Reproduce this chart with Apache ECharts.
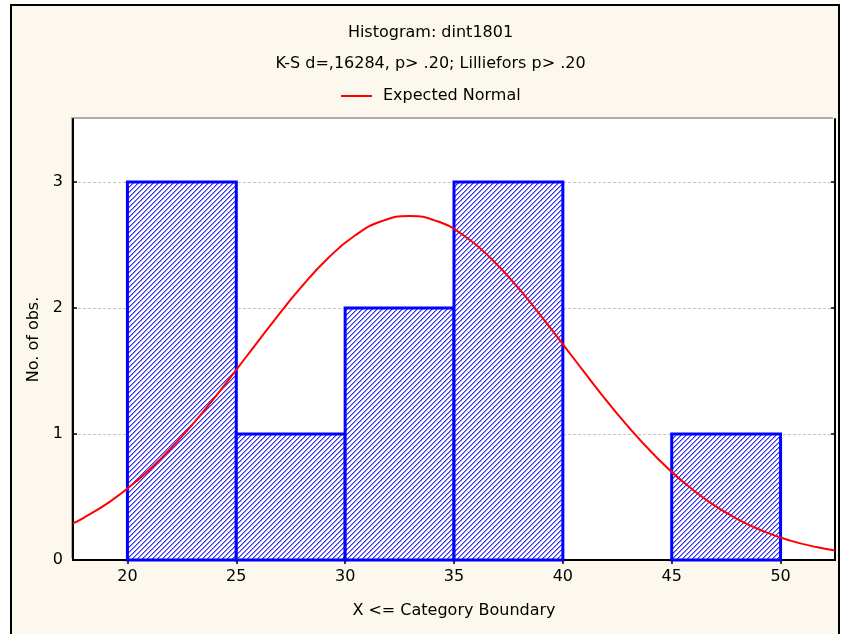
<!DOCTYPE html>
<html><head><meta charset="utf-8">
<script src="https://cdn.jsdelivr.net/npm/echarts@6/dist/echarts.min.js"></script>
<style>
html,body{margin:0;padding:0;background:#fff;}
body{width:842px;height:634px;overflow:hidden;position:relative;}
#frame{position:absolute;left:10px;top:4px;width:830px;height:660px;border:2px solid #000;background:#fdf8ee;box-sizing:border-box;}
#chart{position:absolute;left:0;top:0;width:842px;height:634px;}
</style></head><body>
<div id="frame"></div><div id="chart"></div>
<script>
// ---- data ----
const titleText = 'Histogram: dint1801';
const subTitleText = 'K-S d=,16284, p> .20; Lilliefors p> .20';
const binStart = [20, 25, 30, 35, 40, 45];
const binEnd   = [25, 30, 35, 40, 45, 50];
const counts   = [3, 1, 2, 3, 0, 1];
const xTicks = [20, 25, 30, 35, 40, 45, 50];
const yTicks = [0, 1, 2, 3];
// expected-normal curve, points
const curveX = [17.5, 17.95, 19.2, 20.45, 21.7, 22.95, 24.2, 25.45, 26.7, 27.95, 29.2, 30.45, 31.7, 32.95,
                34.2, 35.45, 36.7, 37.95, 39.2, 40.45, 41.7, 42.95, 44.2, 45.45, 46.7, 47.95, 49.2, 50.45, 51.7, 52.5];
const curveY = [0.291, 0.331, 0.463, 0.630, 0.833, 1.068, 1.331, 1.611, 1.892, 2.159, 2.393, 2.575, 2.690, 2.730,
                2.690, 2.575, 2.393, 2.159, 1.892, 1.611, 1.331, 1.068, 0.833, 0.630, 0.463, 0.331, 0.229, 0.154, 0.101, 0.076];

const FONT = '"DejaVu Sans", "Liberation Sans", sans-serif';

// hatch pattern ("/" stripes)
const P = 5;
const pc = document.createElement('canvas');
pc.width = P; pc.height = P;
const pctx = pc.getContext('2d');
pctx.fillStyle = '#ffffff'; pctx.fillRect(0, 0, P, P);
const stripeCols = ['#3434f2', '#8c8cf7'];
for (let x = 0; x < P; x++) for (let y = 0; y < P; y++) {
  const k = (x + y) % P;
  if (k < stripeCols.length) { pctx.fillStyle = stripeCols[k]; pctx.fillRect(x, y, 1, 1); }
}
const hatch = { image: pc, repeat: 'repeat' };

const chart = echarts.init(document.getElementById('chart'), null, { renderer: 'canvas' });
const axisLine = { show: true, lineStyle: { color: '#000', width: 2 } };
const tickStyle = { color: '#000', width: 1.5 };
const labelStyle = { color: '#000', fontSize: 16, fontFamily: FONT };

chart.setOption({
  animation: false,
  backgroundColor: 'transparent',
  textStyle: { fontFamily: FONT },
  graphic: [
    { type: 'text', x: 430.5, y: 33, style: { text: titleText, font: '16px ' + FONT, fill: '#000', align: 'center', verticalAlign: 'middle' } },
    { type: 'text', x: 430.5, y: 63.5, style: { text: subTitleText, font: '16px ' + FONT, fill: '#000', align: 'center', verticalAlign: 'middle' } }
  ],
  legend: {
    data: [{ name: 'Expected Normal', icon: 'rect' }],
    left: 336, top: 83,
    itemWidth: 31, itemHeight: 2,
    selectedMode: false,
    textStyle: { color: '#000', fontSize: 16, fontFamily: FONT, padding: [0, 0, 0, 6] }
  },
  grid: {
    left: 73, right: 7, top: 119, bottom: 74, show: true, backgroundColor: '#fff', borderWidth: 0,
    shadowColor: 'rgba(0,0,0,0.3)', shadowOffsetX: -2, shadowOffsetY: -2, shadowBlur: 0
  },
  xAxis: [
    {
      type: 'value', position: 'bottom', min: 17.5, max: 52.5, z: 1,
      axisLine: axisLine,
      axisTick: { show: true, inside: true, length: 4, customValues: xTicks, lineStyle: tickStyle },
      axisLabel: Object.assign({ customValues: xTicks, margin: 9 }, labelStyle),
      splitLine: { show: false },
      name: 'X <= Category Boundary', nameLocation: 'middle', nameGap: 43,
      nameTextStyle: labelStyle
    },
    {
      type: 'value', position: 'top', min: 17.5, max: 52.5, z: 1,
      axisLine: axisLine,
      axisTick: { show: true, inside: true, length: 4, customValues: xTicks, lineStyle: tickStyle },
      axisLabel: { show: false },
      splitLine: { show: false }
    }
  ],
  yAxis: [
    {
      type: 'value', position: 'left', min: 0, max: 3.5, interval: 1, z: 1,
      axisLine: axisLine,
      axisTick: { show: true, inside: true, length: 4, customValues: yTicks, lineStyle: tickStyle },
      axisLabel: Object.assign({ customValues: yTicks, margin: 10 }, labelStyle),
      splitLine: { show: true, lineStyle: { color: '#c4c4c4', width: 1, type: [3, 2] } },
      name: 'No. of obs.', nameLocation: 'middle', nameGap: 30, nameRotate: 90,
      nameTextStyle: labelStyle
    },
    {
      type: 'value', position: 'right', min: 0, max: 3.5, interval: 1, z: 1,
      axisLine: axisLine,
      axisTick: { show: true, inside: true, length: 4, customValues: yTicks, lineStyle: tickStyle },
      axisLabel: { show: false },
      splitLine: { show: false }
    }
  ],
  series: [
    {
      type: 'custom', name: 'Histogram', xAxisIndex: 0, yAxisIndex: 0, z: 2,
      data: binStart.map((s, i) => [s, binEnd[i], counts[i]]),
      encode: { x: [0, 1], y: 2 },
      renderItem: function (params, api) {
        const c = api.value(2);
        if (!c) return null;
        const p0 = api.coord([api.value(0), c]);
        const p1 = api.coord([api.value(1), 0]);
        return {
          type: 'rect',
          shape: { x: p0[0], y: p0[1], width: p1[0] - p0[0], height: p1[1] - p0[1] },
          style: { fill: hatch, stroke: '#0000ff', lineWidth: 3 }
        };
      }
    },
    {
      type: 'line', name: 'Expected Normal', xAxisIndex: 0, yAxisIndex: 0, z: 3,
      data: curveX.map((x, i) => [x, curveY[i]]),
      smooth: 0.5, showSymbol: false, symbol: 'none',
      color: '#ff0000',
      itemStyle: { color: '#ff0000' },
      lineStyle: { color: '#ff0000', width: 2 }
    }
  ]
});
</script>
</body></html>
